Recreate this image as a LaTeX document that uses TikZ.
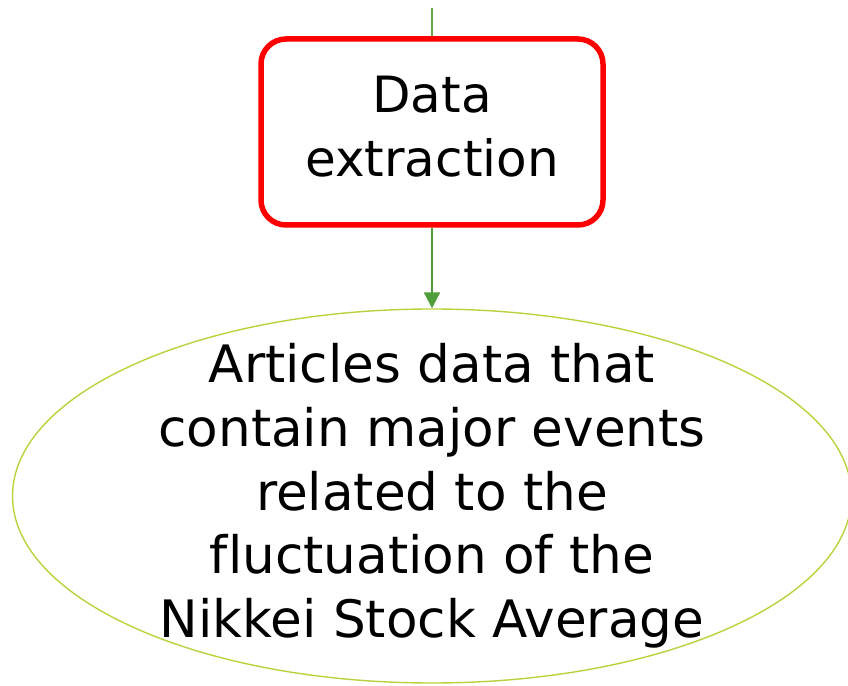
\documentclass[tikz,border=0pt]{standalone}
\usepackage{fontspec}
\setmainfont{DejaVu Sans}[Ligatures={NoCommon}]
\usetikzlibrary{arrows.meta,shapes.geometric}
\definecolor{boxred}{RGB}{255,0,0}
\definecolor{arrowgreen}{RGB}{80,158,58}
\definecolor{topgreen}{RGB}{100,168,72}
\definecolor{ellgreen}{RGB}{186,210,60}
\tikzset{
  procbox/.style={draw=boxred, line width=5.5pt, rounded corners=25pt, rectangle,
    minimum width=342pt, minimum height=186pt, inner sep=0pt,
    font=\fontsize{50}{64}\selectfont, align=center, text depth=10.5pt},
  dataell/.style={draw=ellgreen, line width=1.4pt, ellipse,
    minimum width=839pt, minimum height=374pt, inner sep=0pt},
  elltext/.style={font=\fontsize{51.6}{63.75}\selectfont, align=center, inner sep=0pt},
  flow/.style={draw=arrowgreen, line width=2.2pt, -{Triangle[length=16pt,width=16pt]}},
  inflow/.style={draw=topgreen, line width=1.2pt}
}
\begin{document}
\begin{tikzpicture}[x=1pt,y=1pt]
\useasboundingbox (0,0) rectangle (848,685);
\node[procbox] (extract) at (432,553) {Data\\extraction};
\node[dataell, label={[elltext]center:{Articles data that\\contain major events\\related to the\\fluctuation of the\\Nikkei Stock Average}}] (articles) at (432,189) {};
\coordinate (top) at (432,677);
\draw[inflow] (top) -- (extract.north);
\draw[flow] (extract.south) -- (articles.north);
\end{tikzpicture}
\end{document}
